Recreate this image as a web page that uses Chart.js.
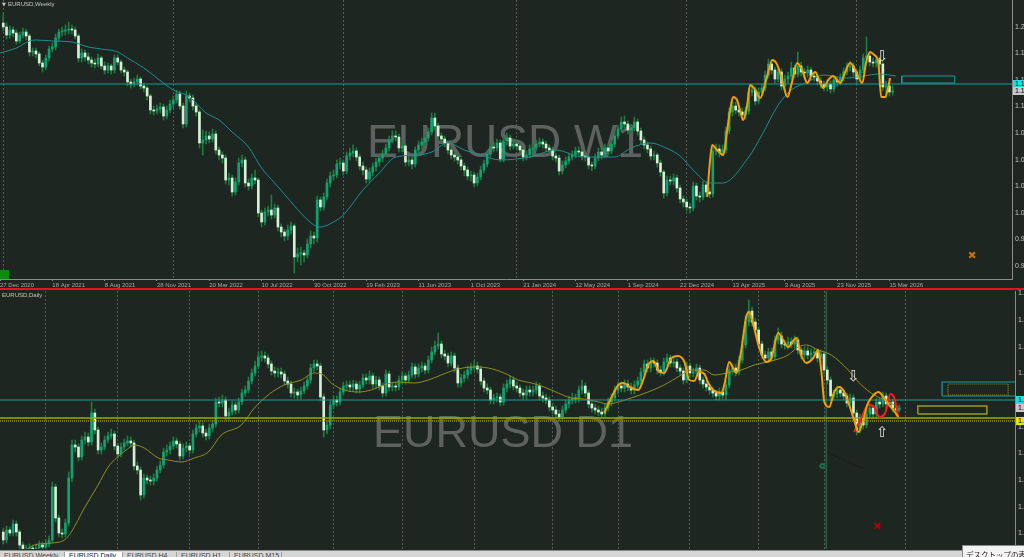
<!DOCTYPE html>
<html>
<head>
<meta charset="utf-8">
<script src="https://cdn.jsdelivr.net/npm/chart.js@4.4.1/dist/chart.umd.min.js"></script>
<style>
  body { margin: 0; width: 1024px; height: 557px; overflow: hidden; position: relative; background: #1e2622; }
  canvas { position: absolute; left: 0; }
  #w1 { top: 0; }
  #d1 { top: 289px; }
  #frame { position: absolute; left: 0; top: 288px; width: 1024px; height: 2px; background: #e01818; }
  #oneclick { position: absolute; left: 0; top: 270px; width: 9px; height: 9px; background: #0b8a0b; }
  #tabs { position: absolute; left: 0; top: 550px; width: 1024px; height: 7px; background: #d6d6d6; border-top: 1px solid #8a8a8a; overflow: hidden; }
  #tabs span { position: absolute; top: 1px; height: 7px; font: 7px "Liberation Sans", sans-serif; color: #444; padding-left: 4px; border-right: 1px solid #a0a0a0; box-sizing: border-box; white-space: nowrap; overflow: hidden; }
  #tabs span.on { background: #fff; color: #111; }
  #tip { position: absolute; left: 962px; top: 545px; width: 70px; height: 16px; background: #f3f3f3; border: 1px solid #888; font: 7.5px "Noto Sans CJK JP", sans-serif; color: #222; padding: 3px 0 0 3px; box-sizing: border-box; white-space: nowrap; overflow: hidden; }
</style>
</head>
<body>
<canvas id="w1" width="1024" height="289"></canvas>
<canvas id="d1" width="1024" height="268"></canvas>
<div id="frame"></div>
<div id="oneclick"></div>
<div id="tabs">
  <span style="left:0;width:65px">EURUSD,Weekly</span>
  <span class="on" style="left:65px;width:58px">EURUSD,Daily</span>
  <span style="left:123px;width:54px">EURUSD,H4</span>
  <span style="left:177px;width:53px">EURUSD,H1</span>
  <span style="left:230px;width:52px">EURUSD,M15</span>
</div>
<div id="tip">デスクトップの表示</div>
<script>
// ---- weekly chart (top) ----
const topOpen0 = 1.205;
const topClose = [
  1.201,1.193,1.198,1.195,1.187,1.193,1.196,1.192,1.176,1.177,
  1.174,1.165,1.161,1.170,1.179,1.181,1.190,1.196,1.197,1.198,
  1.199,1.198,1.192,1.170,1.175,1.171,1.168,1.165,1.164,1.170,
  1.162,1.158,1.162,1.158,1.170,1.166,1.158,1.156,1.146,1.144,
  1.146,1.149,1.142,1.140,1.132,1.118,1.117,1.119,1.121,1.112,
  1.118,1.124,1.128,1.134,1.122,1.104,1.132,1.130,1.122,1.116,
  1.085,1.088,1.092,1.089,1.094,1.078,1.073,1.070,1.048,1.050,
  1.036,1.046,1.065,1.068,1.045,1.042,1.050,1.048,1.015,1.006,
  1.016,1.018,1.013,1.020,1.001,0.996,0.992,0.998,1.002,0.971,
  0.974,0.975,0.973,0.984,0.992,0.990,1.028,1.021,1.031,1.045,
  1.052,1.053,1.064,1.065,1.057,1.072,1.075,1.077,1.071,1.062,
  1.058,1.049,1.056,1.061,1.066,1.070,1.074,1.080,1.088,1.092,
  1.091,1.080,1.082,1.066,1.068,1.064,1.078,1.083,1.086,1.090,
  1.096,1.110,1.102,1.092,1.089,1.085,1.078,1.073,1.071,1.068,
  1.062,1.058,1.052,1.053,1.045,1.051,1.058,1.064,1.074,1.081,
  1.080,1.085,1.069,1.087,1.090,1.082,1.084,1.082,1.078,1.071,
  1.073,1.079,1.080,1.084,1.086,1.084,1.080,1.078,1.072,1.070,
  1.057,1.063,1.067,1.071,1.073,1.077,1.076,1.072,1.071,1.063,
  1.062,1.070,1.076,1.073,1.080,1.077,1.084,1.092,1.099,1.106,
  1.104,1.098,1.100,1.106,1.097,1.088,1.083,1.079,1.072,1.073,
  1.065,1.056,1.035,1.048,1.047,1.050,1.040,1.029,1.026,1.021,
  1.020,1.042,1.032,1.031,1.043,1.036,1.034,1.077,1.079,1.076,
  1.078,1.097,1.116,1.122,1.118,1.116,1.113,1.117,1.136,1.138,
  1.127,1.136,1.140,1.153,1.164,1.158,1.149,1.156,1.142,1.149,
  1.152,1.160,1.154,1.162,1.156,1.155,1.158,1.152,1.151,1.147,
  1.144,1.141,1.144,1.139,1.148,1.146,1.150,1.156,1.161,1.162,
  1.156,1.149,1.158,1.170,1.172,1.166,1.165,1.168,1.164,1.141,
  1.142,1.136,1.137
];
const topHigh = [
  1.215,1.205,1.202,1.201,1.198,1.196,1.200,1.199,1.194,1.180,
  1.180,1.176,1.168,1.173,1.182,1.185,1.194,1.199,1.201,1.203,
  1.206,1.203,1.201,1.194,1.179,1.178,1.175,1.171,1.169,1.174,
  1.172,1.166,1.165,1.164,1.173,1.173,1.168,1.161,1.158,1.149,
  1.150,1.153,1.151,1.145,1.142,1.134,1.122,1.123,1.125,1.124,
  1.122,1.128,1.132,1.138,1.137,1.125,1.137,1.135,1.133,1.125,
  1.118,1.098,1.097,1.096,1.099,1.097,1.081,1.076,1.073,1.055,
  1.053,1.050,1.070,1.073,1.071,1.049,1.054,1.058,1.050,1.018,
  1.020,1.022,1.033,1.024,1.023,1.004,0.999,1.003,1.006,1.004,
  0.980,0.981,0.978,0.989,0.997,0.996,1.032,1.031,1.035,1.049,
  1.056,1.058,1.068,1.070,1.068,1.076,1.080,1.083,1.080,1.074,
  1.066,1.061,1.060,1.065,1.070,1.074,1.078,1.084,1.092,1.097,
  1.097,1.094,1.087,1.084,1.072,1.071,1.081,1.087,1.090,1.094,
  1.100,1.115,1.115,1.105,1.095,1.092,1.087,1.081,1.076,1.074,
  1.070,1.065,1.061,1.057,1.056,1.055,1.062,1.068,1.078,1.085,
  1.086,1.089,1.088,1.091,1.095,1.093,1.088,1.087,1.085,1.080,
  1.077,1.083,1.084,1.088,1.090,1.089,1.087,1.083,1.081,1.075,
  1.073,1.067,1.071,1.075,1.077,1.081,1.081,1.079,1.075,1.073,
  1.066,1.074,1.080,1.079,1.084,1.083,1.088,1.096,1.103,1.111,
  1.112,1.107,1.104,1.111,1.109,1.100,1.091,1.086,1.082,1.077,
  1.075,1.068,1.058,1.052,1.052,1.054,1.053,1.043,1.032,1.029,
  1.025,1.046,1.045,1.036,1.047,1.046,1.040,1.082,1.084,1.083,
  1.083,1.101,1.120,1.126,1.126,1.122,1.120,1.121,1.140,1.143,
  1.141,1.140,1.144,1.157,1.169,1.168,1.161,1.160,1.159,1.153,
  1.156,1.166,1.163,1.176,1.166,1.160,1.162,1.161,1.156,1.154,
  1.150,1.147,1.148,1.147,1.152,1.151,1.154,1.160,1.165,1.167,
  1.165,1.158,1.162,1.174,1.191,1.176,1.170,1.172,1.171,1.166,
  1.147,1.146,1.142
];
const topLow = [
  1.197,1.189,1.190,1.191,1.184,1.185,1.190,1.188,1.172,1.172,
  1.170,1.162,1.156,1.158,1.167,1.176,1.178,1.187,1.192,1.193,
  1.194,1.194,1.189,1.166,1.166,1.167,1.164,1.161,1.160,1.161,
  1.159,1.154,1.155,1.154,1.155,1.163,1.155,1.152,1.142,1.140,
  1.141,1.143,1.139,1.136,1.128,1.114,1.113,1.114,1.115,1.108,
  1.109,1.115,1.120,1.125,1.119,1.100,1.101,1.126,1.118,1.112,
  1.080,1.073,1.084,1.085,1.086,1.074,1.068,1.065,1.044,1.043,
  1.032,1.033,1.043,1.061,1.041,1.038,1.039,1.044,1.011,1.001,
  1.003,1.012,1.009,1.010,0.997,0.991,0.987,0.988,0.994,0.955,
  0.966,0.963,0.966,0.970,0.980,0.984,0.986,1.017,1.018,1.028,
  1.041,1.048,1.050,1.059,1.053,1.054,1.068,1.071,1.067,1.058,
  1.053,1.045,1.046,1.052,1.057,1.062,1.066,1.071,1.077,1.085,
  1.087,1.076,1.076,1.062,1.062,1.059,1.061,1.074,1.079,1.082,
  1.087,1.093,1.098,1.088,1.085,1.081,1.074,1.069,1.067,1.064,
  1.058,1.052,1.048,1.047,1.041,1.042,1.048,1.055,1.061,1.071,
  1.076,1.077,1.066,1.066,1.083,1.078,1.079,1.078,1.074,1.067,
  1.068,1.070,1.075,1.077,1.081,1.080,1.076,1.074,1.068,1.066,
  1.053,1.054,1.060,1.064,1.068,1.070,1.072,1.068,1.067,1.059,
  1.057,1.059,1.067,1.069,1.070,1.073,1.074,1.081,1.089,1.096,
  1.100,1.094,1.094,1.097,1.093,1.084,1.079,1.075,1.068,1.068,
  1.061,1.052,1.030,1.032,1.043,1.043,1.036,1.025,1.021,1.017,
  1.015,1.017,1.028,1.026,1.028,1.032,1.030,1.031,1.073,1.071,
  1.072,1.075,1.094,1.112,1.114,1.112,1.108,1.109,1.114,1.132,
  1.123,1.124,1.132,1.137,1.150,1.154,1.145,1.146,1.138,1.139,
  1.145,1.149,1.150,1.151,1.152,1.150,1.151,1.148,1.147,1.143,
  1.140,1.137,1.137,1.135,1.136,1.142,1.143,1.147,1.153,1.157,
  1.152,1.145,1.146,1.155,1.167,1.162,1.161,1.161,1.160,1.137,
  1.130,1.132,1.133
];
// moving average (teal) read at a few bars
const topMaIdx = [-1,4,8,10,15,21,26,30,35,38,43,47,52,57,62,66,70,75,79,83,87,91,95,97,101,104,110,115,120,127,131,136,141,146,152,161,169,177,187,192,198,202,207,211,216,220,228,232,237,241,246,251,258,263,268,273];
const topMaVal = [1.175,1.180,1.187,1.188,1.187,1.186,1.181,1.179,1.176,1.170,1.160,1.150,1.138,1.131,1.115,1.108,1.096,1.081,1.060,1.045,1.030,1.015,1.003,1.001,1.006,1.013,1.038,1.055,1.071,1.073,1.076,1.085,1.078,1.073,1.068,1.071,1.078,1.071,1.071,1.080,1.085,1.081,1.072,1.058,1.045,1.045,1.071,1.093,1.123,1.138,1.146,1.153,1.150,1.152,1.154,1.152];
// orange swing line
const topZigIdx = [215.3,215.9,216.8,218.3,220.2,221.4,222.3,223.2,224.4,225.3,226.3,227.5,228.4,230,231.5,233.3,235.2,236.4,237.6,238.8,239.8,241,242.8,244.3,245.9,247.1,248.3,249.5,250.8,252.3,253.8,255,256,257.5,259,260.6,262.7,263.9,265.1,266.4,267.6,268.5,269.7,270.6,271.2];
const topZigVal = [1.031,1.058,1.083,1.078,1.073,1.098,1.118,1.131,1.128,1.118,1.108,1.123,1.143,1.138,1.130,1.148,1.168,1.165,1.155,1.140,1.131,1.143,1.165,1.158,1.145,1.152,1.156,1.148,1.140,1.148,1.152,1.148,1.145,1.156,1.165,1.158,1.145,1.166,1.176,1.173,1.166,1.131,1.131,1.140,1.150];
const topLevel = 1.144;
const topBoxX = [274.8, 291.0], topBoxY = [1.145, 1.152];
const topStarIdx = [296.3], topStarVal = [0.973];
const topArrows = [{ x: 268.8, y: 1.1705, up: false }];
const topYearIdx = [0, 52, 104, 157, 209, 261];
const topDateIdx = [-1,15,31,47,63,79,95,111,127,143,159,175,191,207,223,239,255,271];
const topDateLabels = ['27 Dec 2020','18 Apr 2021','8 Aug 2021','28 Nov 2021','20 Mar 2022','10 Jul 2022','30 Oct 2022','19 Feb 2023','11 Jun 2023','1 Oct 2023','21 Jan 2024','12 May 2024','1 Sep 2024','22 Dec 2024','13 Apr 2025','3 Aug 2025','23 Nov 2025','15 Mar 2026'];
const topPriceTicks = [1.2014,1.1748,1.1482,1.1216,1.0950,1.0684,1.0418,1.0152,0.9886,0.9620];

// ---- daily chart (bottom) ----
const botOpen0 = 1.012;
const botClose = [
  1.004,1.014,1.011,1.020,1.012,0.999,0.994,0.995,0.996,0.994,
  0.996,0.999,0.997,1.000,1.004,1.057,1.026,1.011,1.010,1.021,
  1.066,1.099,1.097,1.087,1.104,1.107,1.102,1.131,1.114,1.094,
  1.097,1.104,1.108,1.110,1.098,1.090,1.097,1.101,1.103,1.101,
  1.078,1.074,1.049,1.066,1.064,1.063,1.066,1.074,1.079,1.092,
  1.094,1.098,1.103,1.100,1.088,1.096,1.098,1.094,1.110,1.116,
  1.118,1.111,1.108,1.116,1.120,1.142,1.141,1.144,1.128,1.132,
  1.139,1.134,1.142,1.151,1.154,1.163,1.171,1.178,1.187,1.188,
  1.186,1.180,1.173,1.171,1.172,1.170,1.163,1.160,1.151,1.152,
  1.149,1.153,1.158,1.164,1.176,1.180,1.178,1.147,1.114,1.119,
  1.139,1.144,1.142,1.152,1.158,1.159,1.157,1.160,1.155,1.159,
  1.166,1.164,1.168,1.160,1.164,1.158,1.151,1.170,1.157,1.158,
  1.157,1.164,1.168,1.164,1.169,1.177,1.170,1.176,1.178,1.174,
  1.184,1.192,1.198,1.200,1.190,1.188,1.181,1.188,1.176,1.161,
  1.166,1.169,1.174,1.177,1.178,1.175,1.163,1.156,1.154,1.144,
  1.146,1.147,1.142,1.156,1.160,1.164,1.158,1.156,1.151,1.149,
  1.154,1.152,1.154,1.158,1.148,1.146,1.144,1.137,1.134,1.130,
  1.127,1.134,1.140,1.144,1.146,1.145,1.154,1.158,1.151,1.140,
  1.136,1.134,1.132,1.130,1.136,1.142,1.146,1.154,1.158,1.156,
  1.160,1.157,1.154,1.159,1.163,1.172,1.180,1.176,1.182,1.181,
  1.174,1.172,1.182,1.186,1.181,1.182,1.176,1.173,1.164,1.178,
  1.171,1.172,1.176,1.164,1.160,1.157,1.154,1.151,1.148,1.152,
  1.149,1.159,1.174,1.176,1.172,1.184,1.199,1.222,1.233,1.222,
  1.214,1.200,1.189,1.186,1.192,1.187,1.204,1.208,1.200,1.199,
  1.202,1.200,1.204,1.194,1.189,1.193,1.189,1.191,1.192,1.186,
  1.190,1.174,1.164,1.148,1.150,1.154,1.151,1.148,1.141,1.146,
  1.131,1.114,1.126,1.119,1.130,1.136,1.130,1.142,1.140,1.148,
  1.140,1.142,1.136,1.134,1.136
];
const botHigh = [
  1.016,1.018,1.017,1.024,1.023,1.014,1.002,0.999,1.000,0.999,
  1.000,1.003,1.002,1.004,1.008,1.062,1.060,1.029,1.015,1.025,
  1.072,1.104,1.104,1.100,1.108,1.112,1.111,1.142,1.135,1.117,
  1.101,1.108,1.112,1.115,1.113,1.101,1.101,1.105,1.108,1.107,
  1.104,1.082,1.077,1.070,1.069,1.068,1.070,1.078,1.083,1.096,
  1.099,1.102,1.107,1.106,1.103,1.100,1.102,1.101,1.114,1.120,
  1.123,1.121,1.115,1.120,1.124,1.146,1.147,1.149,1.147,1.136,
  1.143,1.142,1.146,1.155,1.158,1.167,1.175,1.183,1.192,1.193,
  1.192,1.189,1.183,1.177,1.176,1.176,1.173,1.167,1.163,1.156,
  1.155,1.157,1.162,1.168,1.180,1.184,1.184,1.181,1.150,1.124,
  1.143,1.148,1.148,1.156,1.162,1.163,1.163,1.164,1.163,1.163,
  1.170,1.170,1.173,1.171,1.168,1.167,1.161,1.174,1.173,1.162,
  1.162,1.168,1.172,1.171,1.173,1.181,1.180,1.180,1.182,1.181,
  1.188,1.197,1.203,1.211,1.203,1.194,1.191,1.192,1.191,1.179,
  1.170,1.173,1.178,1.181,1.183,1.182,1.178,1.166,1.160,1.157,
  1.150,1.151,1.150,1.160,1.164,1.168,1.167,1.162,1.159,1.155,
  1.158,1.158,1.158,1.162,1.161,1.152,1.150,1.147,1.141,1.138,
  1.134,1.138,1.144,1.148,1.151,1.150,1.158,1.164,1.161,1.154,
  1.143,1.140,1.138,1.136,1.140,1.146,1.150,1.158,1.162,1.162,
  1.164,1.164,1.161,1.163,1.167,1.176,1.184,1.184,1.186,1.186,
  1.184,1.178,1.186,1.190,1.189,1.186,1.185,1.179,1.176,1.182,
  1.181,1.176,1.180,1.179,1.167,1.163,1.160,1.157,1.154,1.156,
  1.155,1.163,1.178,1.180,1.180,1.188,1.203,1.228,1.244,1.237,
  1.226,1.217,1.203,1.193,1.196,1.196,1.208,1.216,1.212,1.204,
  1.207,1.206,1.208,1.207,1.197,1.197,1.197,1.195,1.196,1.195,
  1.194,1.193,1.177,1.167,1.154,1.158,1.157,1.154,1.151,1.150,
  1.149,1.134,1.130,1.130,1.134,1.140,1.139,1.146,1.146,1.152,
  1.151,1.146,1.145,1.139,1.139
];
const botLow = [
  1.000,1.001,1.008,1.008,1.008,0.995,0.991,0.991,0.992,0.991,
  0.991,0.993,0.993,0.994,0.997,1.001,1.022,1.007,1.006,1.007,
  1.018,1.062,1.092,1.083,1.084,1.100,1.098,1.099,1.110,1.090,
  1.090,1.094,1.101,1.105,1.094,1.086,1.087,1.094,1.098,1.097,
  1.074,1.070,1.044,1.046,1.060,1.059,1.059,1.063,1.071,1.076,
  1.088,1.090,1.095,1.096,1.084,1.085,1.092,1.090,1.091,1.107,
  1.112,1.107,1.104,1.105,1.112,1.117,1.137,1.137,1.124,1.124,
  1.129,1.130,1.131,1.139,1.148,1.151,1.160,1.168,1.175,1.183,
  1.182,1.176,1.169,1.167,1.167,1.166,1.159,1.156,1.147,1.146,
  1.145,1.145,1.150,1.155,1.161,1.172,1.174,1.143,1.107,1.110,
  1.115,1.135,1.138,1.139,1.149,1.154,1.153,1.153,1.151,1.151,
  1.156,1.160,1.160,1.156,1.156,1.154,1.147,1.148,1.153,1.153,
  1.153,1.154,1.160,1.160,1.161,1.166,1.166,1.167,1.172,1.170,
  1.171,1.181,1.189,1.195,1.186,1.184,1.177,1.178,1.172,1.157,
  1.157,1.162,1.165,1.170,1.173,1.171,1.159,1.152,1.150,1.140,
  1.140,1.142,1.138,1.139,1.152,1.156,1.154,1.152,1.147,1.145,
  1.145,1.148,1.148,1.150,1.144,1.142,1.140,1.133,1.130,1.126,
  1.123,1.124,1.131,1.136,1.140,1.141,1.142,1.150,1.147,1.136,
  1.132,1.130,1.128,1.126,1.126,1.133,1.138,1.143,1.150,1.152,
  1.152,1.153,1.150,1.150,1.155,1.160,1.169,1.172,1.172,1.177,
  1.170,1.168,1.169,1.178,1.177,1.177,1.172,1.169,1.160,1.161,
  1.167,1.167,1.168,1.160,1.156,1.153,1.150,1.147,1.144,1.144,
  1.145,1.144,1.156,1.170,1.168,1.169,1.181,1.196,1.218,1.218,
  1.210,1.196,1.185,1.182,1.182,1.183,1.184,1.200,1.196,1.195,
  1.195,1.196,1.196,1.190,1.185,1.185,1.185,1.185,1.187,1.182,
  1.182,1.170,1.160,1.144,1.144,1.146,1.147,1.144,1.137,1.137,
  1.127,1.109,1.111,1.115,1.116,1.127,1.126,1.127,1.136,1.137,
  1.136,1.137,1.132,1.130,1.132
];
const botMaIdx = [4.5,7,9.5,14.7,18.7,20.8,24.8,29,32.1,34.6,37.6,40.1,43.1,47.4,50.5,54.4,58.4,62.7,66.7,72.8,76.8,81,85.9,91.1,95.1,97.9,100.3,104.3,108.6,112.5,116.5,120.8,125.7,130,133.9,139.1,144,148.3,153.2,157.5,161.5,165.4,169.7,173.7,177.7,182,185,188,192,197.2,202.1,207.3,210.4,214.4,217.4,222.6,225.7,229.7,234.9,240,243.1,245.6,249.2,253.2,258.4,261.5,265.4,269.4,273.7];
const botMaVal = [0.988,0.994,0.999,1.001,1.004,1.012,1.036,1.059,1.077,1.086,1.094,1.099,1.096,1.086,1.084,1.082,1.086,1.092,1.109,1.119,1.136,1.149,1.159,1.164,1.171,1.169,1.161,1.154,1.152,1.154,1.159,1.162,1.161,1.164,1.169,1.175,1.177,1.176,1.171,1.164,1.161,1.157,1.151,1.146,1.145,1.142,1.140,1.142,1.146,1.152,1.159,1.169,1.174,1.174,1.169,1.172,1.174,1.179,1.183,1.189,1.197,1.199,1.194,1.189,1.174,1.162,1.151,1.144,1.137];
const botZigIdx = [183.8,185.9,188.1,189.6,192.1,194.2,195.7,197.2,198.8,200.6,202.1,204.3,206.4,208.3,209.8,211.3,212.8,214.4,215.6,217.1,219.6,220.5,222,223.2,224.2,225.7,227.2,228.1,229.4,231.2,233.3,234.9,237,238.5,240,242.5,244,245.6,247.7,249.2,250.2,251.1,252.6,254.1,255.7,257.2,258.7,260.2,261.5,263,264.2,265.4,267.6,269.4,270.9,272.2,273.7];
const botZigVal = [1.131,1.146,1.159,1.161,1.156,1.154,1.164,1.179,1.183,1.172,1.171,1.186,1.188,1.182,1.164,1.163,1.172,1.170,1.161,1.154,1.151,1.159,1.182,1.176,1.171,1.194,1.227,1.232,1.219,1.196,1.182,1.186,1.211,1.204,1.197,1.206,1.189,1.181,1.186,1.194,1.172,1.142,1.137,1.152,1.157,1.152,1.139,1.124,1.112,1.124,1.139,1.146,1.152,1.146,1.139,1.134,1.127];
const botRedIdx = [260.2,262.4,264.5,266.4,267.9,269.7,271.3,272.5,273.7];
const botRedVal = [1.112,1.126,1.139,1.137,1.127,1.131,1.150,1.146,1.127];
const botLevel = 1.144, botYellow = 1.126, botYellowDot = 1.123;
const botVline = 251.7;
const botBoxX = [287.1, 310.3], botBoxY = [1.148, 1.162];
const botBoxInX = [288.9, 307.3], botBoxInY = [1.149, 1.160];
const botBoxYelX = [279.7, 300.8], botBoxYelY = [1.130, 1.138];
const botCrossIdx = [267.3], botCrossVal = [1.018];
const botDotIdx = [250.5], botDotVal = [1.078];
const botTrendIdx = [252.3, 262.7], botTrendVal = [1.091, 1.076];
const botArrows = [{ x: 260, y: 1.167, up: false }, { x: 268.8, y: 1.111, up: true }];
const botMonthIdx = [13, 35, 57, 78, 101, 122, 144, 168, 188, 210, 231, 251, 276];
const botPriceTicks = [1.251,1.224,1.197,1.171,1.144,1.117,1.091,1.064,1.037,1.011];

const FONT = '"Liberation Sans", Arial, sans-serif';
const BULL = '#13a073', BEAR = '#d6f0d6', WICK = '#1f7a3d';
const GRID = '#575c59', AXIS = '#8a8a8a';
Chart.defaults.font.family = FONT;

function candles(open0, close, high, low) {
  const opens = close.map((c, i) => i === 0 ? open0 : close[i - 1]);
  return [{
    type: 'bar', order: 4, grouped: false, barThickness: 2, minBarLength: 1,
    data: close.map((c, i) => ({ x: i, y: [opens[i], c] })),
    backgroundColor: close.map((c, i) => c >= opens[i] ? BULL : BEAR)
  }, {
    type: 'bar', order: 5, grouped: false, barThickness: 1,
    data: high.map((h, i) => ({ x: i, y: [low[i], h] })),
    backgroundColor: WICK
  }];
}

function line(xs, ys, color, width, extra) {
  return Object.assign({
    type: 'line', order: 1, data: xs.map((x, k) => ({ x: x, y: ys[k] })),
    borderColor: color, borderWidth: width, pointRadius: 0, fill: false, tension: 0
  }, extra || {});
}

function rect(xs, ys, color, width, extra) {
  return line([xs[0], xs[1], xs[1], xs[0], xs[0]], [ys[0], ys[0], ys[1], ys[1], ys[0]], color, width, extra);
}

function marker(xs, ys, style, color, r) {
  return line(xs, ys, color, 2, { showLine: false, pointStyle: style, pointRadius: r, pointBorderColor: color, pointBackgroundColor: 'rgba(0,0,0,0)', pointBorderWidth: 2, order: 0 });
}

// texts that the library has no slot for: watermark, window title, arrows, price tags
function overlay(cfg) {
  return {
    id: 'overlay',
    beforeDatasetsDraw(chart) {
      const ctx = chart.ctx;
      ctx.save();
      ctx.font = cfg.markSize + 'px ' + FONT;
      ctx.fillStyle = '#5d6260';
      ctx.textBaseline = 'alphabetic';
      ctx.fillText(cfg.mark, cfg.markAt[0], cfg.markAt[1]);
      ctx.restore();
    },
    afterDatasetsDraw(chart) {
      const { ctx, scales: { x, y } } = chart;
      ctx.save();
      ctx.font = '15px "DejaVu Sans"';
      ctx.textAlign = 'center';
      ctx.textBaseline = 'middle';
      ctx.fillStyle = '#e2e2e2';
      cfg.arrows.forEach(a => ctx.fillText(a.up ? '⇧' : '⇩', x.getPixelForValue(a.x), y.getPixelForValue(a.y)));
      ctx.restore();
    },
    afterDraw(chart) {
      const { ctx, chartArea, scales: { y } } = chart;
      ctx.save();
      ctx.textBaseline = 'top';
      ctx.fillStyle = '#c4c4c4';
      if (cfg.icon) {
        ctx.font = '5px "DejaVu Sans"';
        ctx.fillText('▼', 2, 2);
      }
      ctx.font = '6px ' + FONT;
      ctx.fillText(cfg.title, cfg.titleAt[0], cfg.titleAt[1]);
      ctx.font = '7px ' + FONT;
      ctx.textBaseline = 'middle';
      cfg.tags.forEach(t => {
        const py = y.getPixelForValue(t.v);
        ctx.fillStyle = t.bg;
        ctx.fillRect(chartArea.right + 1, py - 4, 30, 8);
        ctx.fillStyle = '#000';
        ctx.fillText(t.v.toFixed(5), chartArea.right + 3, py);
      });
      ctx.restore();
    }
  };
}

function noPad(sc) { sc.paddingTop = 0; sc.paddingBottom = 0; sc.paddingLeft = 0; sc.paddingRight = 0; }

function scalesFor(min, max, ymin, ymax, gridIdx, priceTicks, yWidth, withDates) {
  const s = {
    x: {
      type: 'linear', min: min, max: max, offset: false, position: 'bottom',
      grid: { color: GRID, drawTicks: false, offset: false }, border: { display: false, dash: [2, 2] },
      ticks: { display: false },
      afterBuildTicks: sc => { sc.ticks = gridIdx.map(v => ({ value: v })); },
      afterFit: sc => { sc.height = 0; noPad(sc); }
    },
    y: {
      type: 'linear', position: 'right', min: ymin, max: ymax, bounds: 'data',
      grid: { drawOnChartArea: false, drawTicks: false }, border: { display: true, color: AXIS },
      ticks: { font: { size: 7 }, color: '#c2c2c2', padding: 3, autoSkip: false, callback: v => v.toFixed(5) },
      afterBuildTicks: sc => { sc.ticks = priceTicks.map(v => ({ value: v })); },
      afterFit: sc => { sc.width = yWidth; noPad(sc); }
    }
  };
  if (withDates) {
    s.x2 = {
      type: 'linear', axis: 'x', min: min, max: max, offset: false, position: 'bottom',
      grid: { drawOnChartArea: false, drawTicks: true, tickLength: 2, color: AXIS, offset: false },
      border: { display: true, color: AXIS },
      ticks: { font: { size: 6 }, color: '#a6a6a6', align: 'start', padding: 1, autoSkip: false, maxRotation: 0,
               callback: (v, k) => topDateLabels[k] },
      afterBuildTicks: sc => { sc.ticks = topDateIdx.map(v => ({ value: v })); },
      afterFit: sc => { sc.height = 10; noPad(sc); }
    };
  }
  return s;
}

// weekly
new Chart(document.getElementById('w1'), {
  type: 'bar',
  data: {
    datasets: [
      line([-1, 310], [topLevel, topLevel], '#1c9c9c', 1),
      rect(topBoxX, topBoxY, '#1c9c9c', 1),
      line(topMaIdx, topMaVal, '#1b8f93', 1, { cubicInterpolationMode: 'monotone', order: 2 }),
      line(topZigIdx, topZigVal, '#f2a100', 2, { cubicInterpolationMode: 'monotone', order: 0 }),
      marker(topStarIdx, topStarVal, 'crossRot', '#c57a06', 4),
      ...candles(topOpen0, topClose, topHigh, topLow)
    ]
  },
  options: {
    responsive: false, animation: false,
    layout: { padding: 0, autoPadding: false },
    plugins: { legend: { display: false }, tooltip: { enabled: false } },
    scales: scalesFor(-1, 308.5, 0.949, 1.228, topYearIdx, topPriceTicks, 12, true)
  },
  plugins: [overlay({
    mark: 'EURUSD W1', markSize: 46, markAt: [367, 157],
    title: 'EURUSD,Weekly', titleAt: [8, 1], icon: true,
    arrows: topArrows,
    tags: [{ v: topLevel, bg: '#19e4e4' }, { v: topClose[topClose.length - 1], bg: '#c9c9c9' }]
  })]
});

// daily
new Chart(document.getElementById('d1'), {
  type: 'bar',
  data: {
    datasets: [
      line([-1, 311], [botLevel, botLevel], '#1c9c9c', 1),
      line([-1, 311], [botYellow, botYellow], '#a3a31e', 1.5),
      line([-1, 311], [botYellowDot, botYellowDot], '#8c8c1c', 1.5, { borderDash: [1, 1] }),
      line([botVline, botVline], [0.99, 1.26], '#2f5c44', 1.5, { order: 6 }),
      rect(botBoxX, botBoxY, '#1c9c9c', 1.2),
      rect(botBoxInX, botBoxInY, '#8c8c1c', 1.2, { borderDash: [1, 1] }),
      rect(botBoxYelX, botBoxYelY, '#9c9c1e', 1.5),
      line(botTrendIdx, botTrendVal, '#0c0c0c', 1, { borderDash: [1, 2] }),
      line(botMaIdx, botMaVal, '#8f8f1f', 1, { cubicInterpolationMode: 'monotone', order: 2 }),
      line(botZigIdx, botZigVal, '#f2a100', 2, { cubicInterpolationMode: 'monotone', order: 0 }),
      line(botRedIdx, botRedVal, '#ff1a1a', 2, { cubicInterpolationMode: 'monotone', order: 0 }),
      marker(botCrossIdx, botCrossVal, 'crossRot', '#b00000', 4),
      marker(botDotIdx, botDotVal, 'circle', '#1f6b4f', 2),
      ...candles(botOpen0, botClose, botHigh, botLow)
    ]
  },
  options: {
    responsive: false, animation: false,
    layout: { padding: { top: 2, bottom: 8, left: 0, right: 0 }, autoPadding: false },
    plugins: { legend: { display: false }, tooltip: { enabled: false } },
    scales: scalesFor(-1, 309.4, 0.995, 1.253, botMonthIdx, botPriceTicks, 9, false)
  },
  plugins: [overlay({
    mark: 'EURUSD D1', markSize: 45, markAt: [373, 158],
    title: 'EURUSD,Daily', titleAt: [2, 3], icon: false,
    arrows: botArrows,
    tags: [{ v: botLevel, bg: '#19e4e4' }, { v: botClose[botClose.length - 1], bg: '#c9c9c9' }, { v: botYellowDot, bg: '#e6e600' }]
  })]
});
</script>
</body>
</html>
